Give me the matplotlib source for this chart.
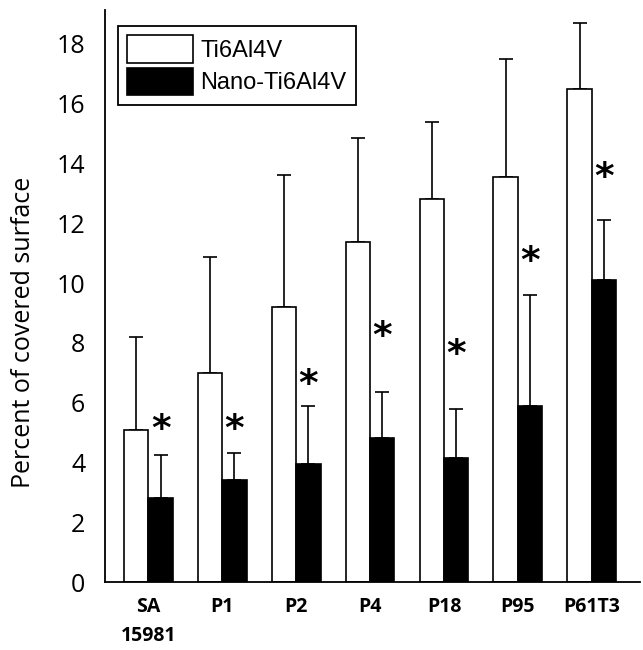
import numpy as np
import matplotlib
matplotlib.use("Agg")
import matplotlib.pyplot as plt

strains = ["SA\n15981", "P1", "P2", "P4", "P18", "P95", "P61T3"]
ti_mean = [5.1, 7.0, 9.2, 11.37, 12.8, 13.55, 16.5]
ti_err = [3.1, 3.87, 4.4, 3.48, 2.6, 3.95, 2.2]
nano_mean = [2.8, 3.41, 3.95, 4.8, 4.15, 5.9, 10.1]
nano_err = [1.45, 0.89, 1.95, 1.55, 1.65, 3.7, 2.0]
star_y = [5.1, 5.1, 6.6, 8.2, 7.6, 10.7, 13.5]

fig = plt.figure(figsize=(6.43, 6.5), dpi=100)
ax = fig.add_axes([0.163, 0.1046, 0.832, 0.88])

x = np.arange(len(strains))
w = 0.33
lw = 1.2
ax.bar(x - w / 2, ti_mean, w, color="white", edgecolor="black", linewidth=lw, label="Ti6Al4V", zorder=2)
ax.bar(x + w / 2, nano_mean, w, color="black", edgecolor="black", linewidth=lw, label="Nano-Ti6Al4V", zorder=2)
ax.errorbar(x - w / 2, ti_mean, yerr=[np.zeros(len(x)), ti_err], fmt="none",
            ecolor="black", elinewidth=lw, capsize=5, capthick=lw, zorder=1)
ax.errorbar(x + w / 2, nano_mean, yerr=[np.zeros(len(x)), nano_err], fmt="none",
            ecolor="black", elinewidth=lw, capsize=5, capthick=lw, zorder=1)

for xi, sy in zip(x, star_y):
    ax.text(xi + w / 2, sy, "*", ha="center", va="center", fontsize=27, fontweight="bold")

ax.set_xlim(-0.59, 6.65)
ax.set_ylim(0, 19.13)
ax.set_yticks(range(0, 19, 2))
ax.set_yticklabels([str(v) for v in range(0, 19, 2)], fontsize=18, family="Open Sans")
ax.set_xticks(x)
ax.set_xticklabels(strains, fontsize=14, fontweight="bold", family="Open Sans", linespacing=1.6)
ax.tick_params(axis="y", length=0, pad=14)
ax.tick_params(axis="x", length=0, pad=11)
ax.set_ylabel("Percent of covered surface", fontsize=18, family="Open Sans")
ax.yaxis.set_label_coords(-0.128, 0.437)

for s in ["top", "right"]:
    ax.spines[s].set_visible(False)
for s in ["left", "bottom"]:
    ax.spines[s].set_linewidth(1.3)

leg = ax.legend(loc="upper left", bbox_to_anchor=(0.024, 0.972), borderaxespad=0,
                fancybox=False, edgecolor="black", framealpha=1,
                handlelength=2.8, handleheight=1.4, handletextpad=0.3,
                labelspacing=0.22, borderpad=0.4,
                prop={"family": "Liberation Sans", "size": 17})
leg.get_frame().set_linewidth(1.3)

fig.savefig("out.png", dpi=100)
